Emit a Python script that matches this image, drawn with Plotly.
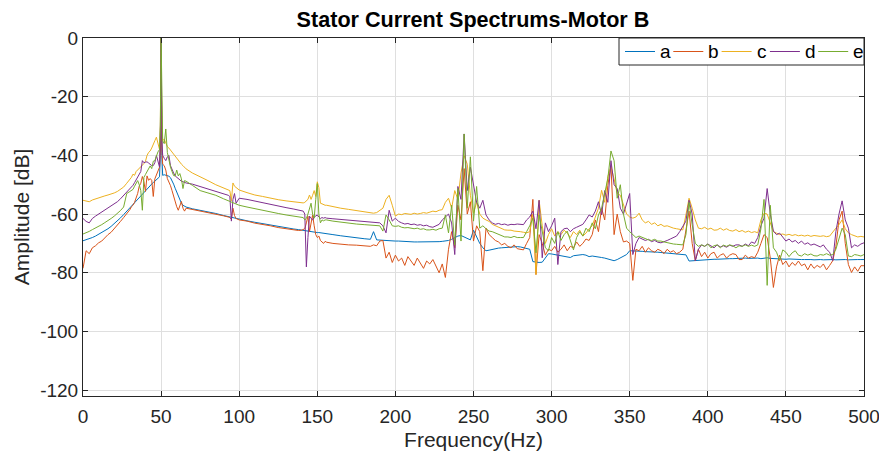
import plotly.graph_objects as go

# ---------------- data ----------------
freq = (list(range(0, 30, 2)) + list(range(30, 49)) + [49, 49.5, 50, 50.5, 51]
        + list(range(52, 67)) + [70, 75, 80, 85, 90, 93, 94, 95, 96, 97, 98, 100, 105, 110, 115, 120, 125, 130, 135, 138]
        + list(range(140, 157)) + [160, 165, 170, 175, 180, 184] + list(range(186, 501, 2)))

series_names = ["a", "b", "c", "d", "e"]
series_colors = ["#0072BD", "#D95319", "#EDB120", "#7E2F8E", "#77AC30"]

a_vals = [
    -69.1, -68.8, -68.4, -68, -67.5, -66.9, -66.3, -65.6, -65, -64.2, -63.3, -62.4, -61.3, -60.2, -59,
    -57.8, -57.2, -56.8, -56.2, -55.6, -55, -54.4, -53.8, -53.3, -52.7, -52, -51.4, -50.8, -50.2, -49.7, -49.2, -48.8, -48.3, -47.8,
    -47.3, -40, 0, -40, -46.8,
    -46.6, -46.7, -46.9, -47.1, -47.6, -48.5, -49.8, -51.2, -52.6, -54, -55.3, -56.3, -57, -57.3, -57.6,
    -58.2, -58.7, -59.3, -59.8, -60.5, -60.9, -61, -61.1, -61.2, -61.3, -61.4, -61.7, -62.3, -62.8, -63.3, -63.8, -64.3, -64.7, -65.1, -65.3,
    -65.5, -65.6, -65.6, -65.7, -65.8, -65.9, -66, -66, -66.1, -66.2, -66.3, -66.3, -66.4, -66.5, -66.6, -66.6, -66.7,
    -67, -67.4, -67.8, -68.1, -68.4, -68.6,
    -66, -68.8, -68.9, -69, -69, -69.1, -69.1, -69.2, -69.2, -69.3,
    -69.3, -69.4, -69.4, -69.5, -69.5, -69.5, -69.6, -69.6, -69.5, -69.5,
    -69.4, -69.4, -69.3, -69.2, -69, -68.6, -68, -67.5, -67.3, -67.8,
    -68.5, -68.8, -65.5, -68, -70, -71.5, -72.5, -72.3, -72, -71.8,
    -71.6, -71.5, -71.4, -71.3, -71.2, -71.2, -71.1, -71.2, -71.5, -71.8,
    -72, -76.2, -76.4, -76.5, -76.4, -75, -73.5, -73.6, -73.8, -73.9,
    -74, -74.2, -74.4, -74.8, -74.2, -74, -73.9, -73.8, -74, -74.5,
    -74.3, -74.4, -74.6, -74.8, -75, -75.3, -75.6, -75.9, -75.5, -75,
    -74.5, -73.8, -72.5, -72.5, -72.6, -72.6, -72.7, -72.8, -72.8, -72.9,
    -73, -73, -73.1, -73.2, -73.3, -73.4, -73.5, -73.6, -73.7, -73.8,
    -73.9, -76, -75.9, -75.8, -75.7, -75.6, -75.6, -75.5, -75.5, -75.4,
    -75.4, -75.3, -75.3, -75.2, -75.2, -75.2, -75.1, -75.2, -75.1, -75,
    -75.1, -75, -75.1, -75, -75.2, -75, -74.9, -75.1, -75.2, -75.3,
    -75.3, -75.4, -75.4, -75.3, -75.4, -75.5, -75.4, -75.5, -75.5, -75.4,
    -75.5, -75.6, -75.5, -75.5, -75.6, -75.5, -75.6, -75.5, -75.6, -75.5,
    -75.6, -75.5, -75.6, -75.5, -75.6, -75.5, -75.5, -75.5,
]

b_vals = [
    -78.5, -72.5, -73.5, -71.5, -70.8, -69.8, -69.2, -68, -67, -66.2, -65, -64, -62.5, -61.2, -60,
    -58.5, -57.5, -57, -56, -54.8, -53, -50.5, -49.5, -47.2, -49, -52.3, -47, -48.5, -47.9, -48.5, -54, -48, -46.5, -45.2,
    -44, -38, 0, -38, -43,
    -43.5, -45, -47.9, -49, -50.3, -52, -54, -56.5, -57.5, -58.7, -57, -55.7, -58, -59, -58,
    -58.4, -59, -59.5, -60, -60.6, -61, -61.2, -61.8, -58, -60.5, -61.5, -62, -62.4, -63.1, -63.5, -64, -64.6, -65, -65.4, -65.6,
    -65.5, -65.3, -65, -63, -60.7, -66, -63, -60.3, -64, -67, -68, -67.5, -69, -69.5, -70, -69.3, -69.6,
    -70, -70.3, -70.5, -70.6, -70.8, -71,
    -70.5, -70.8, -69.2, -69, -75, -73, -76.5, -74, -76, -75,
    -77.5, -74.5, -76, -77.5, -75, -76.8, -78.5, -76, -77, -75.5,
    -78, -80, -77, -81.6, -72, -66, -71.5, -57, -62, -44.5,
    -60, -55.8, -69.2, -64, -66, -79.3, -64.8, -67, -68, -69,
    -69.5, -70.5, -70, -71, -71.5, -70.5, -71.8, -72, -72.2, -70,
    -68, -55, -80.6, -67, -70, -74, -72, -72.5, -71, -73,
    -72, -70.5, -72.5, -71, -71.5, -69.5, -71, -70, -68.5, -69,
    -67, -62, -66, -58, -62, -50.2, -43.5, -67, -60, -66,
    -69.5, -69.2, -70, -82.6, -72, -72.5, -71, -73, -71.5, -72.5,
    -73, -72, -72.5, -73.5, -72, -73, -72.5, -73.5, -73, -72,
    -66, -59, -70, -75.9, -72, -74.5, -73, -75, -73.5, -73,
    -75, -74, -73.5, -75, -74, -73.5, -73.8, -75.5, -75.5, -74,
    -75, -74.5, -74.9, -73, -70, -67, -68, -75, -85, -78,
    -74, -77.2, -76, -78, -76.5, -77.5, -76, -77.6, -77, -79,
    -77, -78.5, -77.5, -78.2, -77, -79, -77.5, -75.9, -71, -62,
    -59, -70, -77.2, -79.9, -78, -79.5, -77.6, -77.6,
]

c_vals = [
    -55.3, -55.5, -55.8, -55.2, -54.8, -54.4, -54, -53.8, -53.5, -53.2, -52.8, -52.3, -51.6, -50.8, -49.5,
    -48.4, -47.5, -46.4, -46.8, -45.5, -45, -44.3, -43.8, -43.2, -42.8, -42, -40, -39, -38.5, -37.5, -36.5, -35, -33.8, -35.5,
    -38, -30, 0, -30, -35,
    -34.5, -36, -37, -37.5, -38.2, -39, -39.8, -40.3, -41, -41.8, -42.5, -43, -43.5, -44, -44.6,
    -46, -47.2, -48.6, -50, -51, -51.6, -52, -55.5, -49.4, -50.5, -51, -51.8, -52.7, -53.5, -54, -54.6, -55.1, -55.5, -55.8, -56,
    -56, -56.2, -56, -55.5, -55, -53.5, -55, -53.6, -52, -54, -49, -51, -56.3, -56.5, -56.8, -57, -57,
    -57.5, -58, -58.4, -58.8, -59.2, -59.5,
    -59.7, -59.5, -58.7, -58, -55, -53.6, -57, -60.7, -60, -60.2,
    -59.8, -60, -60.1, -59.7, -60, -59.8, -59.5, -59.7, -59.4, -59,
    -59.2, -58.7, -58.5, -56, -54.6, -58, -52, -55, -46, -40.1,
    -43, -53.6, -59.7, -56, -60, -61.4, -62, -62.5, -63.5, -64,
    -64.5, -65, -65.4, -65.5, -65.5, -65.8, -65.8, -66, -66.2, -66.4,
    -66, -60, -80.6, -55.3, -64, -70, -67, -65, -67.5, -66,
    -67, -65.5, -66.5, -68, -66, -67, -65.5, -67.5, -66.5, -65,
    -64, -61, -58, -51.9, -56, -47.2, -43.8, -48, -53, -53.6,
    -57, -60, -61, -61.4, -61, -59.7, -62, -63, -62.5, -63.5,
    -63, -64, -63.5, -64.2, -64, -64.5, -64.8, -65, -65.2, -65.4,
    -60.3, -54.6, -58, -62, -64.8, -65, -64.5, -65.2, -64.8, -65.5,
    -65.4, -64.8, -65.5, -65, -65.6, -65.8, -65.3, -66, -65.6, -66.2,
    -65.8, -66.3, -66, -66.4, -62, -59.7, -60, -63, -66, -66.5,
    -67, -66.8, -67.2, -66.9, -67.3, -67, -67.4, -67.2, -67.5, -67.2,
    -67.6, -67.3, -67.5, -67.6, -67.4, -67.7, -67.5, -66, -64.8, -63.6,
    -62, -65, -66.4, -67, -67.5, -67.8, -67.6, -67.8,
]

d_vals = [
    -61.5, -62.5, -63, -61.5, -60.7, -60, -59.5, -58.8, -58.2, -57.5, -56.6, -55.8, -54.8, -53.7, -52.5,
    -51.3, -50.7, -50.2, -49.3, -48.4, -47.5, -46.5, -45.5, -41.8, -42.5, -42.3, -42.2, -42.6, -43, -43.5, -43.5, -42.5, -40, -42,
    -44, -35, 0, -35, -40,
    -41, -41.8, -40.5, -40, -43.5, -45, -46, -47, -47.5, -48, -48.5, -48.8, -49, -49.2, -49.4,
    -49.8, -50.6, -51.4, -52.3, -53, -53.6, -54, -62.4, -55, -53, -56.3, -54.6, -55, -55.6, -56.2, -56.8, -57.3, -57.8, -58.3, -58.6,
    -58.8, -59, -60, -78, -68, -60.7, -61.5, -62, -61, -60.6, -60.3, -61, -61.5, -61.2, -61.4, -61.2, -61.4,
    -61.6, -61.8, -62, -62.2, -62.4, -62.6,
    -62.7, -62.8, -63, -64, -66.4, -58.7, -62.4, -61.4, -62.5, -63,
    -63.4, -63.2, -63.6, -63.4, -63.8, -63.6, -64, -63.8, -64.3, -64.5,
    -64, -63.5, -62, -61, -60, -63, -73.8, -50.6, -55, -32.7,
    -52, -44, -50.6, -56, -58, -55.3, -60.3, -62, -63, -63.5,
    -63.2, -63.6, -63.4, -63.8, -63.5, -63.6, -63.4, -63.6, -63.6, -62,
    -61, -59, -65, -55.3, -74.9, -63, -66, -64, -61.4, -77.2,
    -66, -65, -64.8, -66, -65, -64.5, -64, -63.5, -62, -60.3,
    -61, -59, -55.8, -60.3, -52, -56, -41.8, -50, -51.3, -58,
    -60, -56, -53, -73.8, -70, -68, -68.5, -69, -68.6, -69.4,
    -69, -69.6, -69.8, -69.5, -69, -68.5, -68, -67.5, -66, -64,
    -62.4, -55.3, -60, -75.9, -72, -70.5, -71, -70.2, -71, -71.5,
    -70.5, -71.2, -70.8, -71.3, -70.6, -71, -70.5, -70.5, -71, -70.2,
    -70.8, -69.5, -70, -68, -64, -61.4, -51.3, -60, -65.8, -67,
    -66.5, -68, -69.2, -68.5, -69.5, -69, -70, -69.2, -70.3, -69.8,
    -70.6, -70.2, -70.8, -71.2, -70.5, -72, -73, -75.9, -66, -60,
    -55.5, -62, -64.8, -71.5, -70.5, -71, -70.2, -69.8,
]

e_vals = [
    -66.8, -66.4, -65.9, -65.3, -64.8, -64.2, -63.6, -62.9, -62.3, -61.5, -60.7, -59.8, -58.8, -57.6, -53,
    -52.3, -51.9, -51.6, -50.5, -49.5, -48.6, -50, -52, -58.7, -47.5, -46.5, -45.5, -44.5, -43.6, -44.5, -42, -41.8, -40, -38.8,
    -38, -30, 0, -25, -35,
    -36, -31, -39, -41.8, -44, -45.5, -46.9, -47, -45, -47, -46.2, -48, -51.3, -48.6, -48.8,
    -50.2, -52, -52.8, -53.6, -54.8, -55.4, -55.6, -55.8, -56, -56.2, -56.5, -57, -57.6, -58.2, -58.8, -59.3, -59.8, -60.3, -60.6, -60.8,
    -61, -61.2, -62, -61.5, -60, -58, -56.3, -60, -61.4, -55, -49.6, -60, -63, -62, -62.3, -62, -62,
    -62.4, -62.8, -63.1, -63.4, -63.6, -63.8,
    -64, -64, -64, -65.8, -60.3, -62, -64, -64.2, -64, -64.5,
    -64.7, -64.6, -64.9, -65, -64.8, -65.2, -65, -65.4, -65.4, -65.2,
    -65.5, -65, -64.8, -60.3, -66.4, -57, -70.5, -51.3, -69.2, -32.7,
    -58, -40.5, -62.4, -50.6, -64.8, -64, -65, -65.8, -66, -66.5,
    -67, -67.5, -67.8, -67.8, -68, -67.6, -68, -68, -68, -66,
    -64, -61.4, -73.2, -60.3, -66, -71.5, -72.5, -68, -70, -66,
    -69, -67, -65.8, -69, -72.2, -68, -66, -67.5, -64.8, -66,
    -63, -65, -60.3, -58, -53, -47.9, -38.5, -41.8, -54.6, -50,
    -60, -64.8, -66, -67, -68, -67.5, -68, -68.5, -68.8, -69,
    -68.6, -69.2, -69.2, -69.5, -69.8, -70, -70.2, -70.3, -70.4, -70.5,
    -67, -56, -63.6, -70, -71, -70.5, -71, -70.2, -71.5, -70.8,
    -70.5, -71.5, -70.6, -71, -70.5, -70.8, -71.5, -70.8, -71, -70.5,
    -71, -70.6, -71, -70.5, -65, -55, -84.3, -57, -71.5, -73,
    -75.9, -72.2, -73, -74.5, -73.2, -72.5, -74, -74.3, -73.5, -74,
    -73.6, -74.2, -74.3, -73.8, -74, -73.5, -74, -73.8, -72, -68,
    -64.8, -67, -74.3, -74.5, -73.8, -74, -74.3, -73.8,
]

x_tick_vals = [0, 50, 100, 150, 200, 250, 300, 350, 400, 450, 500]
y_tick_vals = [0, -20, -40, -60, -80, -100, -120]
y_tick_text = ["0", "-20", "-40", "-60", "-80", "-100", "-120"]

all_vals = [a_vals, b_vals, c_vals, d_vals, e_vals]
for v in all_vals:
    assert len(v) == len(freq), (len(v), len(freq))

# ---------------- figure ----------------
FONT = "Liberation Sans, Arial, Helvetica, sans-serif"
AX = "#262626"
GRID = "#DFDFDF"
W, H = 879, 457
L, R, T, B = 83, 15, 38, 61
PW, PH = W - L - R, H - T - B

fig = go.Figure()
for name, col, vals in zip(series_names, series_colors, all_vals):
    fig.add_trace(go.Scatter(x=freq, y=vals, mode="lines", name=name,
                             line=dict(color=col, width=1), showlegend=False))

# MATLAB-style legend box (top-right, inside axes)
def px_x(p):
    return (p - L) / PW

def px_y(p):
    return (H - B - p) / PH

shapes = [dict(type="rect", xref="paper", yref="paper", layer="above",
               x0=px_x(619), x1=1, y0=px_y(65), y1=1,
               fillcolor="white", line=dict(color=AX, width=1))]
annotations = []
leg_y = px_y(51.5)
for i, (name, col) in enumerate(zip(series_names, series_colors)):
    x0 = 625 + 48.3 * i
    shapes.append(dict(type="line", xref="paper", yref="paper", layer="above",
                       x0=px_x(x0), x1=px_x(x0 + 30), y0=leg_y, y1=leg_y,
                       line=dict(color=col, width=1)))
    annotations.append(dict(xref="paper", yref="paper", x=px_x(x0 + 33), y=leg_y,
                            text=name, showarrow=False, xanchor="left", yanchor="middle",
                            font=dict(family=FONT, size=19, color="black")))

fig.update_layout(
    width=W, height=H,
    margin=dict(l=L, r=R, t=T, b=B, autoexpand=False),
    paper_bgcolor="white", plot_bgcolor="white",
    font=dict(family=FONT, size=19, color=AX),
    title=dict(text="<b>Stator Current Spectrums-Motor B</b>", x=0.5381, xanchor="center",
               xref="container", yref="container", y=1 - 19 / 457, yanchor="middle",
               font=dict(family=FONT, size=21.6, color="black")),
    showlegend=False,
    shapes=shapes,
    annotations=annotations,
)
fig.update_xaxes(range=[0, 500], tickvals=x_tick_vals, ticks="inside", ticklen=5,
                 tickcolor=AX, showline=True, linecolor=AX, linewidth=1, mirror="ticks",
                 showgrid=True, gridcolor=GRID, gridwidth=1, zeroline=False, automargin=False,
                 tickfont=dict(size=19, color=AX), ticklabelstandoff=3, ticklabeloverflow="allow",
                 title=dict(text="Frequency(Hz)", font=dict(size=21, color=AX), standoff=6))
fig.update_yaxes(range=[-122, 0], tickvals=y_tick_vals, ticktext=y_tick_text, ticks="inside", ticklen=5,
                 tickcolor=AX, showline=True, linecolor=AX, linewidth=1, mirror="ticks",
                 showgrid=True, gridcolor=GRID, gridwidth=1, zeroline=False, automargin=False,
                 tickfont=dict(size=19, color=AX), ticklabeloverflow="allow",
                 title=dict(text="Amplitude [dB]", font=dict(size=21, color=AX), standoff=4))

fig.write_html("out.html", config={"displayModeBar": False},
               post_script="document.body.style.margin='0';document.body.style.overflow='hidden';")
